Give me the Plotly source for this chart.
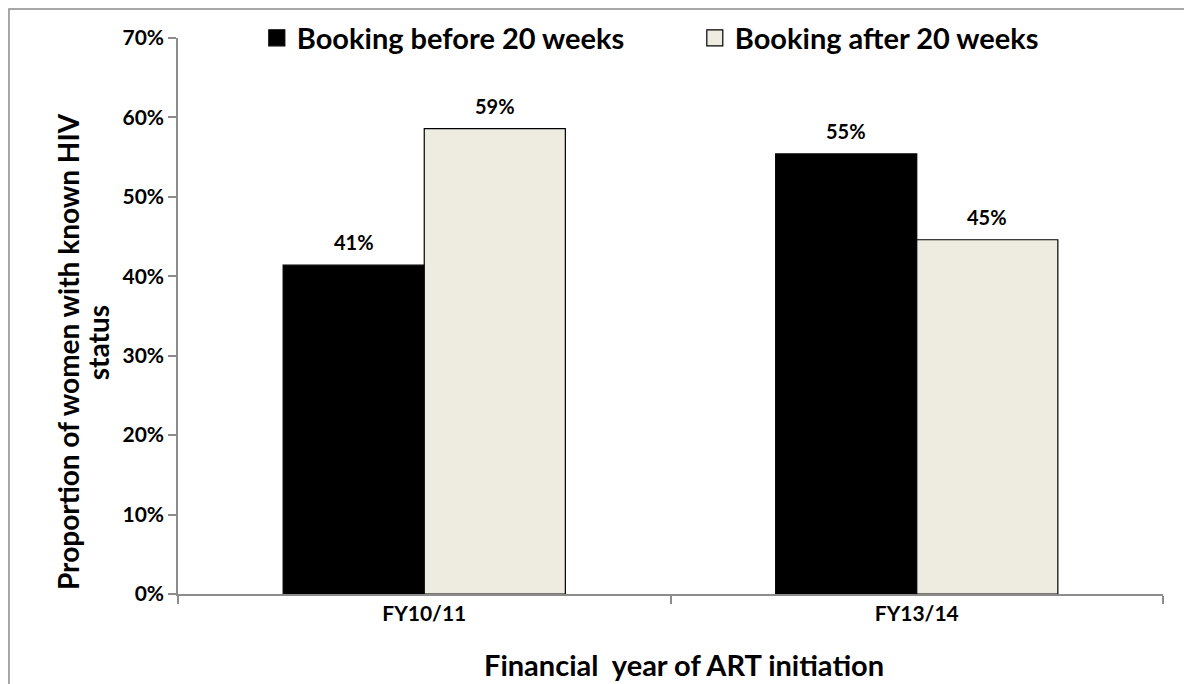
import plotly.graph_objects as go

# data
years = ["FY10/11", "FY13/14"]
before_20 = [41.4, 55.4]      # % booking before 20 weeks
after_20 = [58.6, 44.6]       # % booking after 20 weeks
before_labels = ["41%", "55%"]
after_labels = ["59%", "45%"]
y_ticks = [0, 10, 20, 30, 40, 50, 60, 70]
series_names = ["Booking before 20 weeks", "Booking after 20 weeks"]
series_colors = ["#000000", "#EEECE1"]

FONT = "Lato"

fig = go.Figure()
for name, vals, col in zip(series_names, [before_20, after_20], series_colors):
    fig.add_trace(go.Bar(
        x=years, y=vals, name=name, showlegend=False,
        marker=dict(color=col, line=dict(color="#000000", width=1.2)),
    ))
# legend-only entries, so the legend squares come out bigger than plotly's bar swatch
for name, col in zip(series_names, series_colors):
    fig.add_trace(go.Scatter(
        x=[None], y=[None], mode="markers", name=name,
        marker=dict(symbol="square", size=16, color=col, line=dict(color="#000000", width=1.2)),
    ))

# value labels above each bar
half = 70.5  # half bar width in px, shifts labels off the category centre
for i, yr in enumerate(years):
    fig.add_annotation(x=yr, y=before_20[i], text=before_labels[i], showarrow=False,
                       xshift=-half, yshift=23, font=dict(family=FONT, size=20, color="black", weight="bold"))
    fig.add_annotation(x=yr, y=after_20[i], text=after_labels[i], showarrow=False,
                       xshift=half, yshift=23, font=dict(family=FONT, size=20, color="black", weight="bold"))

# y title in two lines (tighter line spacing than plotly's <br>)
title_font = dict(family=FONT, size=28, color="black", weight="bold")
fig.add_annotation(xref="paper", yref="paper", x=-0.1117, y=0.437, xanchor="center", yanchor="middle",
                   textangle=-90, text="Proportion of women with known HIV", showarrow=False, font=title_font)
fig.add_annotation(xref="paper", yref="paper", x=-0.0812, y=0.451, xanchor="center", yanchor="middle",
                   textangle=-90, text="status", showarrow=False, font=title_font)
fig.add_annotation(xref="paper", yref="paper", x=0.514, y=-0.126, xanchor="center", yanchor="middle",
                   text="Financial  year of ART initiation", showarrow=False,
                   font=dict(family=FONT, size=29, color="black", weight="bold"))

# outer frame
fig.add_shape(type="rect", xref="paper", yref="paper", x0=-0.1716, x1=1.05, y0=-0.2, y1=1.052,
              line=dict(color="#8c8c8c", width=1.5), layer="below")

# the page body has an 8px margin, so the figure is 8px smaller each way
fig.update_layout(
    width=1184, height=676,
    margin=dict(l=170, r=29, t=30, b=90, autoexpand=False),
    paper_bgcolor="white", plot_bgcolor="white",
    barmode="group", bargap=0.427, bargroupgap=0,
    font=dict(family=FONT, color="black"),
    showlegend=True,
    legend=dict(orientation="h", x=0.080, y=1.0, xanchor="left", yanchor="middle",
                entrywidth=393, entrywidthmode="pixels", itemsizing="trace",
                font=dict(family=FONT, size=29, color="black", weight="bold"),
                bgcolor="rgba(0,0,0,0)"),
)
fig.update_xaxes(
    showline=True, linecolor="#8c8c8c", linewidth=1.5,
    ticks="outside", tickson="boundaries", ticklen=8, tickcolor="#8c8c8c", tickwidth=1.5,
    tickfont=dict(family=FONT, size=21, color="black", weight="bold"),
    showgrid=False, zeroline=False,
)
fig.update_yaxes(
    range=[0, 70], tickvals=y_ticks, ticktext=[f"{v}%" for v in y_ticks],
    showline=True, linecolor="#8c8c8c", linewidth=1.5,
    ticks="outside", ticklen=8, tickcolor="#8c8c8c", tickwidth=1.5,
    tickfont=dict(family=FONT, size=21, color="black", weight="bold"),
    showgrid=False, zeroline=False,
)

fig.write_html("out.html")
